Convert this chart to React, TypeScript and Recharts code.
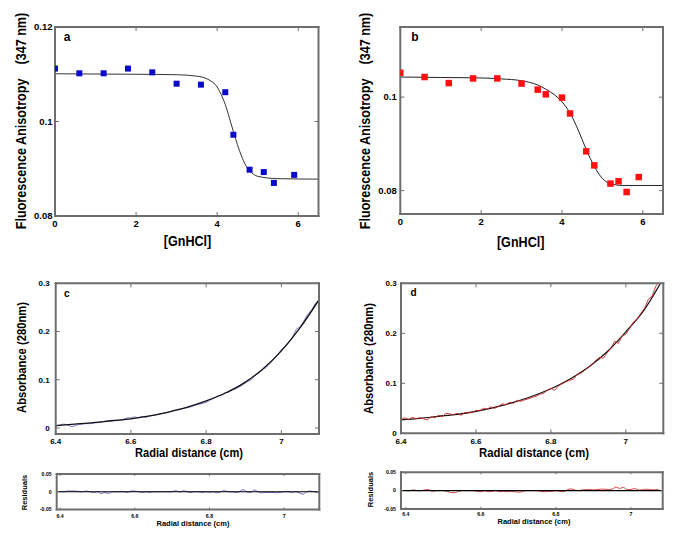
import React from 'react';
import { ComposedChart, XAxis, YAxis, Line, Scatter, ReferenceLine } from 'recharts';

const FONT = '"Liberation Sans", Arial, Helvetica, sans-serif';
const FRAME = '#6e6e6e';

// a: anisotropy vs [GnHCl] (blue)
const gnA = [0, 0.6, 1.2, 1.8, 2.4, 3.0, 3.6, 4.2, 4.4, 4.8, 5.15, 5.4, 5.9];
const anisoA = [0.1112, 0.1102, 0.1102, 0.1112, 0.1104, 0.108, 0.1078, 0.1062, 0.0972, 0.0898, 0.0893, 0.087, 0.0887];
const fitGnA = [0, 2, 3, 3.5, 3.8, 4.0, 4.1, 4.2, 4.3, 4.4, 4.5, 4.6, 4.7, 4.8, 5.0, 5.5, 6.5];
const fitAnisoA = [0.1101, 0.11, 0.1099, 0.1096, 0.1088, 0.1073, 0.1057, 0.1036, 0.1008, 0.0979, 0.0951, 0.0927, 0.0908, 0.0896, 0.0884, 0.0879, 0.0878];

// b: anisotropy vs [GnHCl] (red)
const gnB = [0, 0.6, 1.2, 1.8, 2.4, 3.0, 3.4, 3.6, 4.0, 4.2, 4.6, 4.8, 5.2, 5.4, 5.6, 5.9];
const anisoB = [0.1052, 0.1043, 0.103, 0.104, 0.104, 0.1029, 0.1016, 0.1006, 0.0999, 0.0965, 0.0884, 0.0854, 0.0815, 0.082, 0.0797, 0.0829];
const fitGnB = [0, 1, 2, 2.5, 3.0, 3.4, 3.6, 3.8, 4.0, 4.2, 4.4, 4.6, 4.8, 5.0, 5.2, 5.5, 6.5];
const fitAnisoB = [0.1043, 0.1042, 0.1041, 0.1039, 0.1035, 0.1026, 0.1017, 0.1006, 0.099, 0.0966, 0.093, 0.0888, 0.0852, 0.0826, 0.0815, 0.0811, 0.0811];

// c, d: absorbance scans
const radius = [
  6.40, 6.41, 6.42, 6.43, 6.44, 6.45, 6.46, 6.47, 6.48, 6.49,
  6.50, 6.51, 6.52, 6.53, 6.54, 6.55, 6.56, 6.57, 6.58, 6.59,
  6.60, 6.61, 6.62, 6.63, 6.64, 6.65, 6.66, 6.67, 6.68, 6.69,
  6.70, 6.71, 6.72, 6.73, 6.74, 6.75, 6.76, 6.77, 6.78, 6.79,
  6.80, 6.81, 6.82, 6.83, 6.84, 6.85, 6.86, 6.87, 6.88, 6.89,
  6.90, 6.91, 6.92, 6.93, 6.94, 6.95, 6.96, 6.97, 6.98, 6.99,
  7.00, 7.01, 7.02, 7.03, 7.04, 7.05, 7.06, 7.07, 7.08, 7.09, 7.10,
];
const absC = [
  0.004, 0.006, 0.008, 0.007, 0.003, 0.004, 0.007, 0.008, 0.009, 0.009,
  0.010, 0.011, 0.012, 0.014, 0.015, 0.016, 0.015, 0.016, 0.018, 0.021,
  0.021, 0.023, 0.021, 0.024, 0.022, 0.025, 0.026, 0.028, 0.030, 0.031,
  0.033, 0.035, 0.037, 0.038, 0.041, 0.042, 0.044, 0.047, 0.049, 0.051,
  0.053, 0.058, 0.061, 0.066, 0.068, 0.073, 0.074, 0.079, 0.082, 0.086,
  0.091, 0.096, 0.100, 0.109, 0.114, 0.121, 0.126, 0.134, 0.143, 0.151,
  0.163, 0.168, 0.178, 0.189, 0.205, 0.210, 0.222, 0.236, 0.244, 0.258, 0.262,
];
const absD = [
  0.028, 0.031, 0.027, 0.032, 0.029, 0.031, 0.029, 0.027, 0.033, 0.031,
  0.036, 0.033, 0.040, 0.039, 0.037, 0.040, 0.036, 0.041, 0.042, 0.041,
  0.046, 0.045, 0.050, 0.048, 0.053, 0.050, 0.054, 0.059, 0.057, 0.062,
  0.060, 0.066, 0.064, 0.067, 0.069, 0.072, 0.074, 0.078, 0.080, 0.086,
  0.090, 0.086, 0.095, 0.099, 0.103, 0.106, 0.108, 0.118, 0.120, 0.126,
  0.132, 0.137, 0.146, 0.152, 0.150, 0.161, 0.170, 0.184, 0.180, 0.195,
  0.198, 0.210, 0.222, 0.228, 0.240, 0.250, 0.268, 0.274, 0.294, 0.306, 0.322,
];
const fitRadius = [6.4, 6.45, 6.5, 6.55, 6.6, 6.65, 6.7, 6.75, 6.8, 6.85, 6.9, 6.95, 7.0, 7.05, 7.1];
const fitC = [0.005, 0.008, 0.011, 0.015, 0.019, 0.025, 0.033, 0.043, 0.056, 0.072, 0.093, 0.122, 0.16, 0.208, 0.266];
const fitD = [0.027, 0.03, 0.034, 0.038, 0.044, 0.052, 0.062, 0.074, 0.089, 0.108, 0.132, 0.163, 0.203, 0.248, 0.31];

// residuals
const residC = [
  0, 0, 0.002, 0.002, 0.002, 0.001, 0, 0.002, 0, -0.002,
  0, -0.005, -0.002, -0.005, 0, 0, 0, 0, -0.002, 0.002,
  0.002, 0, -0.002, 0, -0.002, 0, 0, 0, 0, 0,
  0, 0.003, -0.001, 0.003, 0, -0.002, 0, 0, -0.002, 0,
  -0.002, 0, -0.003, 0, 0.003, 0, 0, -0.002, 0, 0.006,
  0, -0.002, 0.005, 0, -0.003, -0.002, -0.002, -0.002, -0.003, -0.002,
  0, 0, -0.002, 0, -0.003, -0.007, 0, 0.002, 0, -0.002, 0,
];
const residD = [
  0, 0, 0.002, 0, 0, 0.002, 0.003, -0.002, 0, 0,
  0, -0.002, -0.005, -0.006, -0.002, 0, 0, 0, 0, -0.002,
  -0.003, 0, -0.003, -0.002, 0, -0.003, -0.002, -0.003, -0.002, -0.003,
  -0.004, -0.003, 0, 0, 0, 0, -0.002, -0.003, -0.002, -0.002,
  0, -0.002, -0.003, 0.002, 0.005, 0.002, 0, 0.002, 0.003, 0.003,
  0.002, 0.003, 0.004, 0.004, 0.003, 0.004, 0.01, 0.006, 0.009, 0.003,
  0.003, 0.006, 0.002, 0.002, 0.004, 0.003, 0.002, 0.003, 0, 0, 0,
];

const pairs = (xs: number[], ys: number[]) => xs.map((x, i) => ({ x, y: ys[i] }));

const square = (color: string, s: number) => (p: any) => (
  <rect x={p.cx - s / 2} y={p.cy - s / 2} width={s} height={s} fill={color} />
);

function frame(o: {
  xDomain: number[]; xTicks: number[]; yDomain: number[]; yTicks: number[];
  yWidth: number; font: number; xGap: number; yGap: number; tick?: number;
}) {
  const t = o.tick ?? 4;
  const common = {
    type: 'number' as const, allowDataOverflow: true, interval: 0 as const,
    stroke: FRAME, strokeWidth: 2, axisLine: { strokeLinecap: 'square' as const },
    tickLine: { strokeWidth: 1 },
  };
  const lbl = { fill: '#000', fontSize: o.font, fontWeight: 700, fontFamily: FONT };
  return [
    <XAxis key="xb" {...common} dataKey="x" domain={o.xDomain} ticks={o.xTicks} height={20}
      tickSize={-t} tickMargin={t + o.xGap} tick={lbl} />,
    <XAxis key="xt" {...common} xAxisId="top" orientation="top" mirror dataKey="x" domain={o.xDomain}
      ticks={o.xTicks} tickSize={t} tickFormatter={() => ''} />,
    <YAxis key="yl" {...common} dataKey="y" domain={o.yDomain} ticks={o.yTicks} width={o.yWidth}
      tickSize={-t} tickMargin={t + o.yGap} tick={lbl} />,
    <YAxis key="yr" {...common} yAxisId="right" orientation="right" mirror dataKey="y" domain={o.yDomain}
      ticks={o.yTicks} tickSize={t} tickFormatter={() => ''} />,
  ];
}

const T = { fontFamily: FONT, fontWeight: 700, fill: '#000', style: { whiteSpace: 'pre' as const } };

export default function App() {
  const box = (left: number, top: number): React.CSSProperties => ({ position: 'absolute', left, top });
  return (
    <div style={{ position: 'absolute', left: 0, top: 0, width: 676, height: 546, background: '#fff', overflow: 'hidden' }}>
      {/* a */}
      <div style={box(0, 0)}>
        <ComposedChart width={330} height={250} margin={{ top: 27, right: 11.5, bottom: 14, left: 0 }}>
          {frame({ xDomain: [0, 6.5], xTicks: [0, 2, 4, 6], yDomain: [0.08, 0.12], yTicks: [0.08, 0.1, 0.12], yWidth: 55, font: 9.5, xGap: 4, yGap: 2.5 })}
          <Line data={pairs(fitGnA, fitAnisoA)} dataKey="y" type="monotone" stroke="#333" strokeWidth={1} dot={false} isAnimationActive={false} />
          <Scatter data={pairs(gnA, anisoA)} dataKey="y" shape={square('#0a0ac8', 6)} isAnimationActive={false} />
        </ComposedChart>
      </div>
      {/* b */}
      <div style={box(340, 0)}>
        <ComposedChart width={336} height={250} margin={{ top: 27, right: 13, bottom: 16, left: 0 }}>
          {frame({ xDomain: [0, 6.5], xTicks: [0, 2, 4, 6], yDomain: [0.075, 0.115], yTicks: [0.08, 0.1], yWidth: 60.3, font: 9.5, xGap: 4, yGap: 3.5 })}
          <Line data={pairs(fitGnB, fitAnisoB)} dataKey="y" type="monotone" stroke="#222" strokeWidth={1} dot={false} isAnimationActive={false} />
          <Scatter data={pairs(gnB, anisoB)} dataKey="y" shape={square('#ff1010', 6.5)} isAnimationActive={false} />
        </ComposedChart>
      </div>
      {/* c */}
      <div style={box(0, 250)}>
        <ComposedChart width={330} height={210} margin={{ top: 33.3, right: 11, bottom: 6, left: 0 }}>
          {frame({ xDomain: [6.4, 7.1], xTicks: [6.4, 6.6, 6.8, 7], yDomain: [-0.0125, 0.3], yTicks: [0, 0.1, 0.2, 0.3], yWidth: 55.7, font: 8, xGap: 4.5, yGap: 6 })}
          <Line data={pairs(radius, absC)} dataKey="y" type="linear" stroke="#5a5ac8" strokeWidth={0.8} dot={false} isAnimationActive={false} />
          <Line data={pairs(fitRadius, fitC)} dataKey="y" type="monotone" stroke="#111" strokeWidth={1.3} dot={false} isAnimationActive={false} />
        </ComposedChart>
      </div>
      {/* d */}
      <div style={box(340, 250)}>
        <ComposedChart width={336} height={210} margin={{ top: 33.3, right: 12.7, bottom: 6.7, left: 0 }}>
          {frame({ xDomain: [6.4, 7.1], xTicks: [6.4, 6.6, 6.8, 7], yDomain: [0, 0.3], yTicks: [0, 0.1, 0.2, 0.3], yWidth: 61, font: 8, xGap: 4.7, yGap: 4.3 })}
          <Line data={pairs(fitRadius, fitD)} dataKey="y" type="monotone" stroke="#111" strokeWidth={1.2} dot={false} isAnimationActive={false} />
          <Line data={pairs(radius, absD)} dataKey="y" type="linear" stroke="#cc2222" strokeWidth={0.9} dot={false} isAnimationActive={false} />
        </ComposedChart>
      </div>
      {/* c residuals */}
      <div style={box(0, 460)}>
        <ComposedChart width={330} height={86} margin={{ top: 14, right: 10.7, bottom: 16.5, left: 0 }}>
          {frame({ xDomain: [6.391, 7.094], xTicks: [6.4, 6.6, 6.8, 7], yDomain: [-0.05, 0.05], yTicks: [-0.05, 0, 0.05], yWidth: 56.7, font: 5.2, xGap: 4.5, yGap: 5, tick: 2 })}
          <Line data={pairs(radius, residC)} dataKey="y" type="monotone" stroke="#5a5ac8" strokeWidth={0.9} dot={false} isAnimationActive={false} />
          <ReferenceLine y={0} stroke="#000" strokeWidth={1.2} />
        </ComposedChart>
      </div>
      {/* d residuals */}
      <div style={box(340, 460)}>
        <ComposedChart width={336} height={86} margin={{ top: 12.3, right: 13.3, bottom: 17, left: 0 }}>
          {frame({ xDomain: [6.387, 7.085], xTicks: [6.4, 6.6, 6.8, 7], yDomain: [-0.05, 0.05], yTicks: [-0.05, 0, 0.05], yWidth: 61, font: 5.2, xGap: 3.8, yGap: 5, tick: 2 })}
          <Line data={pairs(radius, residD)} dataKey="y" type="monotone" stroke="#d03030" strokeWidth={0.9} dot={false} isAnimationActive={false} />
          <ReferenceLine y={0} stroke="#000" strokeWidth={1.2} />
        </ComposedChart>
      </div>

      <svg width={676} height={546} style={{ position: 'absolute', left: 0, top: 0, pointerEvents: 'none' }}>
        <text {...T} fontSize={15} textAnchor="middle" dominantBaseline="central" transform="translate(21,121) rotate(-90) scale(0.84,1)">{'Fluorescence Anisotropy    (347 nm)'}</text>
        <text {...T} fontSize={15} textAnchor="middle" dominantBaseline="central" transform="translate(365,121) rotate(-90) scale(0.84,1)">{'Fluorescence Anisotropy    (347 nm)'}</text>
        <text {...T} fontSize={15} textAnchor="middle" dominantBaseline="central" transform="translate(187.5,241) scale(0.84,1)">[GnHCl]</text>
        <text {...T} fontSize={15} textAnchor="middle" dominantBaseline="central" transform="translate(520.7,241.5) scale(0.84,1)">[GnHCl]</text>
        <text {...T} fontSize={12} textAnchor="middle" dominantBaseline="central" transform="translate(21.5,357.5) rotate(-90) scale(0.935,1)">Absorbance (280nm)</text>
        <text {...T} fontSize={12} textAnchor="middle" dominantBaseline="central" transform="translate(368,358.5) rotate(-90) scale(0.935,1)">Absorbance (280nm)</text>
        <text {...T} fontSize={13} textAnchor="middle" dominantBaseline="central" transform="translate(189,453) scale(0.855,1)">Radial distance (cm)</text>
        <text {...T} fontSize={13} textAnchor="middle" dominantBaseline="central" transform="translate(534,453) scale(0.87,1)">Radial distance (cm)</text>
        <text {...T} fontSize={7.5} textAnchor="middle" dominantBaseline="central" transform="translate(24.5,492.5) rotate(-90)">Residuals</text>
        <text {...T} fontSize={7.5} textAnchor="middle" dominantBaseline="central" transform="translate(370.5,489.5) rotate(-90)">Residuals</text>
        <text {...T} fontSize={7.5} textAnchor="middle" dominantBaseline="central" x={193} y={523.5}>Radial distance (cm)</text>
        <text {...T} fontSize={7.5} textAnchor="middle" dominantBaseline="central" x={534} y={521.7}>Radial distance (cm)</text>
        <text {...T} fontSize={12} textAnchor="middle" dominantBaseline="central" x={67} y={37}>a</text>
        <text {...T} fontSize={12} textAnchor="middle" dominantBaseline="central" x={415} y={37}>b</text>
        <text {...T} fontSize={10} textAnchor="middle" dominantBaseline="central" x={66.7} y={293}>c</text>
        <text {...T} fontSize={10} textAnchor="middle" dominantBaseline="central" x={413.5} y={292.7}>d</text>
      </svg>
    </div>
  );
}
